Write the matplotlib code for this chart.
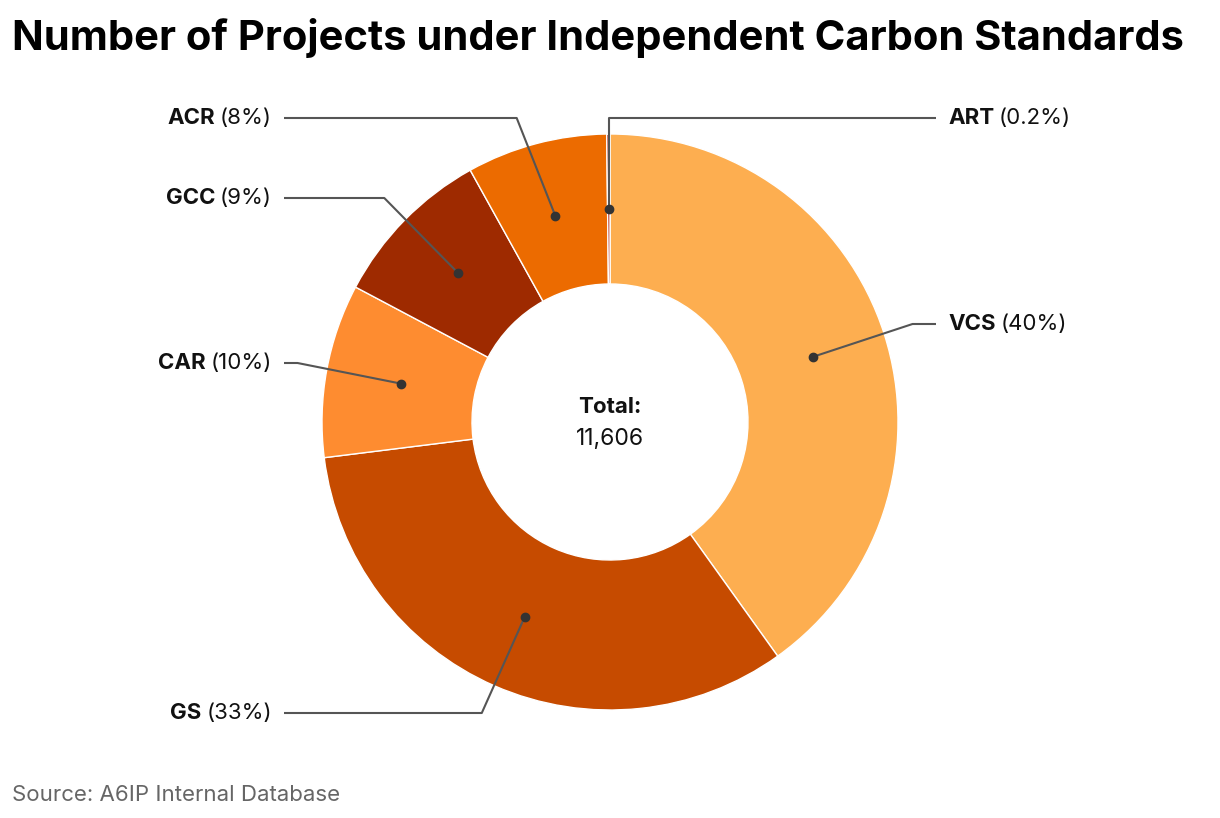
import numpy as np
import matplotlib
matplotlib.use("Agg")
import matplotlib.pyplot as plt

# data
standards = ["VCS", "GS", "CAR", "GCC", "ACR", "ART"]
projects = [4655, 3820, 1130, 1065, 915, 21]
colors = ["#FDAE50", "#C64B00", "#FE8C30", "#9E2A00", "#EC6B00", "#A81C0A"]

W, H = 1220, 818
plt.rcParams["font.family"] = ["Inter", "DejaVu Sans"]

fig = plt.figure(figsize=(W / 100, H / 100), dpi=100)
ax = fig.add_axes([0, 0, 1, 1])

def fy(y):
    # pixel row from top -> data y
    return H - y

cx, cy = 610, fy(422)
r_out, r_in = 288, 138

wedges, _ = ax.pie(projects, colors=colors, startangle=90, counterclock=False,
                   radius=r_out, center=(cx, cy), frame=True,
                   wedgeprops=dict(width=r_out - r_in, edgecolor="white", linewidth=1))
ax.set_xlim(0, W)
ax.set_ylim(0, H)
ax.set_aspect("equal")
ax.axis("off")

total = sum(projects)

def pct_text(v):
    p = v / total * 100
    return f"{p:.1f}%" if p < 1 else f"{p:.0f}%"

# label rows (pixel y from top) and side
label_rows = {"VCS": (324, "right"), "GS": (713, "left"), "CAR": (363, "left"),
              "GCC": (198, "left"), "ACR": (118, "left"), "ART": (118, "right")}

r_dot = (r_out + r_in) / 2
r_elb = 318
line_c = "#555555"
fs = 16

for w, name, v in zip(wedges, standards, projects):
    mid = np.deg2rad((w.theta1 + w.theta2) / 2)
    dx, dy = cx + r_dot * np.cos(mid), cy + r_dot * np.sin(mid)
    row, side = label_rows[name]
    ly = fy(row)
    if name == "ART":
        ex = dx
    else:
        off = np.sqrt(max(r_elb ** 2 - (ly - cy) ** 2, 0))
        ex = cx + off if side == "right" else cx - off
    end_x = 936 if side == "right" else 284
    ax.plot([dx, ex, end_x], [dy, ly, ly], color=line_c, lw=1.5, zorder=3,
            solid_capstyle="butt")
    ax.plot(dx, dy, "o", color="#333333", ms=6, zorder=4)
    if side == "right":
        t = ax.text(948, ly, name, ha="left", va="center", fontsize=fs,
                    fontweight="bold", color="#111111")
        ax.annotate(f"({pct_text(v)})", xycoords=t, xy=(1, 0.5), va="center",
                    ha="left", xytext=(3.5, 0), textcoords="offset points",
                    fontsize=fs, color="#111111")
    else:
        t = ax.text(272, ly, f"({pct_text(v)})", ha="right", va="center",
                    fontsize=fs, color="#111111")
        ax.annotate(name, xycoords=t, xy=(0, 0.5), va="center", ha="right",
                    xytext=(-3.5, 0), textcoords="offset points",
                    fontsize=fs, fontweight="bold", color="#111111")

ax.text(cx, fy(407), "Total:", ha="center", va="center", fontsize=16,
        fontweight="bold", color="#111111")
ax.text(cx, fy(439), f"{total:,}", ha="center", va="center", fontsize=16.5,
        color="#111111")

ax.text(12, fy(38), "Number of Projects under Independent Carbon Standards",
        ha="left", va="center", fontsize=30, fontweight="bold", color="black")
ax.text(12, fy(795), "Source: A6IP Internal Database", ha="left", va="center",
        fontsize=16, color="#666666")

fig.savefig("out.png", dpi=100)
